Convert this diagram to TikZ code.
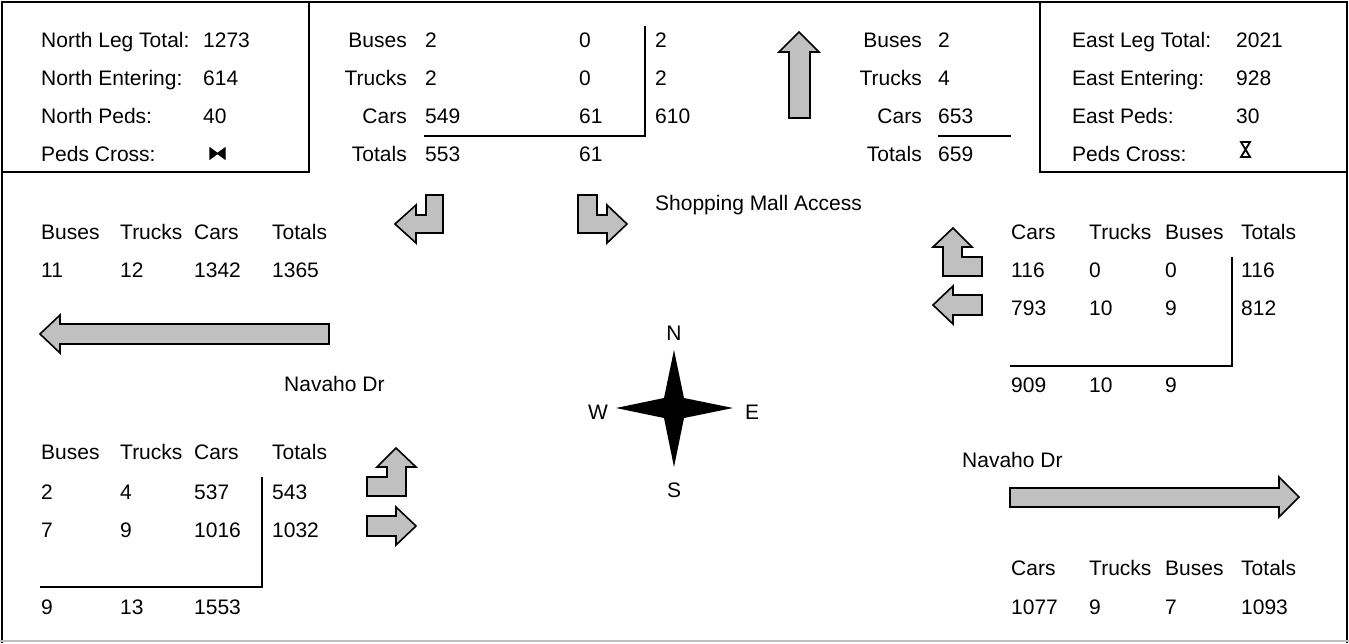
\documentclass[tikz,border=0pt]{standalone}
\usepackage{fontspec}
\setmainfont{Liberation Sans}
\usepackage{xcolor}
\usepackage{tikz}
\definecolor{arrowgray}{RGB}{192,192,192}

\begin{document}
\begin{tikzpicture}[x=1pt, y=-1pt,
    txt/.style={anchor=west, inner sep=0pt, text height=15pt, text depth=0pt, font=\fontsize{21}{25}\selectfont},
    rtxt/.style={txt, anchor=east},
    ctxt/.style={txt, anchor=center},
    frame/.style={line width=1.6pt},
    rule/.style={line width=1.6pt},
    flow/.style={draw, line width=1.6pt, fill=arrowgray, line join=miter}
]
    \useasboundingbox (0,0) rectangle (1349,643);

    % Outer frame and corner boxes
    \draw[frame] (2,643) -- (2,2) -- (1347,2) -- (1347,643);
    \draw[gray!50, line width=1.6pt] (0,641) -- (1349,641);
    \draw[frame] (2,172) -- (309,172) -- (309,2);
    \draw[frame] (1040,2) -- (1040,172) -- (1347,172);

    % North leg summary
    \node[txt] (nlegL) at (41,40) {North Leg Total:};  \node[txt] (nlegV) at (203,40) {1273};
    \node[txt] (nentL) at (41,78) {North Entering:};   \node[txt] (nentV) at (203,78) {614};
    \node[txt] (npedL) at (41,116) {North Peds:};      \node[txt] (npedV) at (203,116) {40};
    \node[txt] (ncrsL) at (41,154) {Peds Cross:};
    \filldraw[line width=1.2pt, line join=miter] (210,148) -- (217.5,153.5) -- (210,159) -- cycle;
    \filldraw[line width=1.2pt, line join=miter] (225,148) -- (217.5,153.5) -- (225,159) -- cycle;

    % North approach counts
    \node[rtxt] (nBus) at (407,40) {Buses};   \node[txt] (nBus1) at (425,40) {2};    \node[txt] (nBus2) at (579,40) {0};   \node[txt] (nBus3) at (655,40) {2};
    \node[rtxt] (nTrk) at (407,78) {Trucks};  \node[txt] (nTrk1) at (425,78) {2};    \node[txt] (nTrk2) at (579,78) {0};   \node[txt] (nTrk3) at (655,78) {2};
    \node[rtxt] (nCar) at (407,116) {Cars};   \node[txt] (nCar1) at (425,116) {549}; \node[txt] (nCar2) at (579,116) {61}; \node[txt] (nCar3) at (655,116) {610};
    \node[rtxt] (nTot) at (407,154) {Totals}; \node[txt] (nTot1) at (425,154) {553}; \node[txt] (nTot2) at (579,154) {61};
    \draw[rule] (424,136) -- (645,136) -- (645,26);

    % North exit counts
    \draw[flow] (799,32) -- (819,52) -- (810,52) -- (810,118) -- (789,118) -- (789,52) -- (779,52) -- cycle;
    \node[rtxt] (xBus) at (922,40) {Buses};   \node[txt] (xBus1) at (938,40) {2};
    \node[rtxt] (xTrk) at (922,78) {Trucks};  \node[txt] (xTrk1) at (938,78) {4};
    \node[rtxt] (xCar) at (922,116) {Cars};   \node[txt] (xCar1) at (938,116) {653};
    \node[rtxt] (xTot) at (922,154) {Totals}; \node[txt] (xTot1) at (938,154) {659};
    \draw[rule] (938,136) -- (1011,136);

    % East leg summary
    \node[txt] (elegL) at (1072,40) {East Leg Total:};  \node[txt] (elegV) at (1236,40) {2021};
    \node[txt] (eentL) at (1072,78) {East Entering:};   \node[txt] (eentV) at (1236,78) {928};
    \node[txt] (epedL) at (1072,116) {East Peds:};      \node[txt] (epedV) at (1236,116) {30};
    \node[txt] (ecrsL) at (1072,154) {Peds Cross:};
    \draw[line width=1.8pt, line join=miter] (1241,142) -- (1250,142) -- (1241,157) -- (1250,157) -- cycle;

    % North turning arrows
    \draw[flow] (426,195) -- (443,195) -- (443,233) -- (416,233) -- (416,243) -- (395,224) -- (416,205) -- (416,215) -- (426,215) -- cycle;
    \draw[flow] (578,195) -- (597,195) -- (597,215) -- (607,215) -- (607,205) -- (627,224) -- (607,243) -- (607,233) -- (578,233) -- cycle;
    \node[txt] (mall) at (655,203) {Shopping Mall Access};

    % West exit counts
    \node[txt] (wBus) at (41,232) {Buses}; \node[txt] (wTrk) at (120,232) {Trucks}; \node[txt] (wCar) at (194,232) {Cars}; \node[txt] (wTot) at (272,232) {Totals};
    \node[txt] (wBus1) at (41,270) {11};   \node[txt] (wTrk1) at (120,270) {12};    \node[txt] (wCar1) at (194,270) {1342}; \node[txt] (wTot1) at (272,270) {1365};
    \draw[flow] (40,334) -- (60,315) -- (60,324) -- (329,324) -- (329,344) -- (60,344) -- (60,353) -- cycle;
    \node[txt] (wRoad) at (284,384) {Navaho Dr};

    % Compass
    \fill (674,350) -- (684,398) -- (733,408) -- (684,418) -- (674,467) -- (664,418) -- (616,408) -- (664,398) -- cycle;
    \node[ctxt] (cN) at (674,333) {N};
    \node[ctxt] (cS) at (674,490) {S};
    \node[ctxt] (cW) at (598,412) {W};
    \node[ctxt] (cE) at (752,412) {E};

    % East approach counts
    \draw[flow] (953,228) -- (972,247) -- (962,247) -- (962,257) -- (982,257) -- (982,276) -- (943,276) -- (943,247) -- (933,247) -- cycle;
    \draw[flow] (933,305) -- (953,286) -- (953,295) -- (982,295) -- (982,315) -- (953,315) -- (953,324) -- cycle;
    \node[txt] (eCar) at (1011,232) {Cars}; \node[txt] (eTrk) at (1089,232) {Trucks}; \node[txt] (eBus) at (1165,232) {Buses}; \node[txt] (eTot) at (1241,232) {Totals};
    \node[txt] (eCar1) at (1011,270) {116}; \node[txt] (eTrk1) at (1089,270) {0};  \node[txt] (eBus1) at (1165,270) {0}; \node[txt] (eTot1) at (1241,270) {116};
    \node[txt] (eCar2) at (1011,308) {793}; \node[txt] (eTrk2) at (1089,308) {10}; \node[txt] (eBus2) at (1165,308) {9}; \node[txt] (eTot2) at (1241,308) {812};
    \node[txt] (eCar3) at (1011,385) {909}; \node[txt] (eTrk3) at (1089,385) {10}; \node[txt] (eBus3) at (1165,385) {9};
    \draw[rule] (1010,366) -- (1232,366) -- (1232,257);

    % West approach counts
    \node[txt] (sBus) at (41,452) {Buses}; \node[txt] (sTrk) at (120,452) {Trucks}; \node[txt] (sCar) at (194,452) {Cars}; \node[txt] (sTot) at (272,452) {Totals};
    \node[txt] (sBus1) at (41,492) {2};    \node[txt] (sTrk1) at (120,492) {4};     \node[txt] (sCar1) at (194,492) {537};  \node[txt] (sTot1) at (272,492) {543};
    \node[txt] (sBus2) at (41,530) {7};    \node[txt] (sTrk2) at (120,530) {9};     \node[txt] (sCar2) at (194,530) {1016}; \node[txt] (sTot2) at (272,530) {1032};
    \node[txt] (sBus3) at (41,607) {9};    \node[txt] (sTrk3) at (120,607) {13};    \node[txt] (sCar3) at (194,607) {1553};
    \draw[rule] (40,587) -- (262,587) -- (262,477);
    \draw[flow] (396,448) -- (416,467) -- (406,467) -- (406,496) -- (367,496) -- (367,477) -- (387,477) -- (387,467) -- (377,467) -- cycle;
    \draw[flow] (416,526) -- (396,507) -- (396,516) -- (367,516) -- (367,536) -- (396,536) -- (396,545) -- cycle;

    % East exit counts
    \node[txt] (eRoad) at (962,460) {Navaho Dr};
    \draw[flow] (1010,488) -- (1279,488) -- (1279,477) -- (1299,497) -- (1279,517) -- (1279,507) -- (1010,507) -- cycle;
    \node[txt] (oCar) at (1011,568) {Cars}; \node[txt] (oTrk) at (1089,568) {Trucks}; \node[txt] (oBus) at (1165,568) {Buses}; \node[txt] (oTot) at (1241,568) {Totals};
    \node[txt] (oCar1) at (1011,607) {1077}; \node[txt] (oTrk1) at (1089,607) {9}; \node[txt] (oBus1) at (1165,607) {7}; \node[txt] (oTot1) at (1241,607) {1093};
\end{tikzpicture}
\end{document}
